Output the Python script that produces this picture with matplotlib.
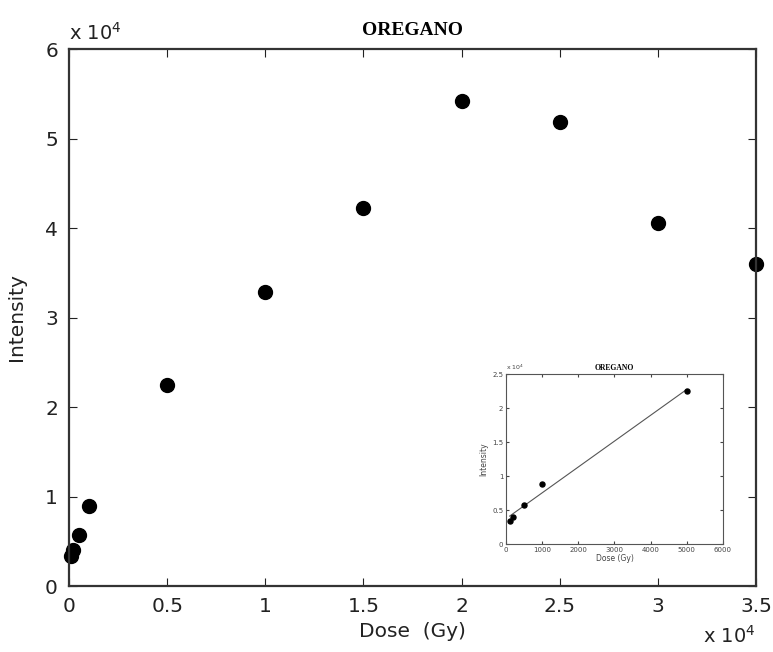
import numpy as np
import matplotlib.pyplot as plt

# Dose (Gy) and signal intensity
dose = [100, 200, 500, 1000, 5000, 10000, 15000, 20000, 25000, 30000, 35000]
intensity = [3400, 4000, 5700, 8900, 22500, 32800, 42200, 54200, 51800, 40600, 36000]

# low-dose range shown in the inset with its linear fit
low_dose = dose[:5]
low_intensity = intensity[:5]

main_xticks = [0, 0.5, 1, 1.5, 2, 2.5, 3, 3.5]
main_yticks = [0, 1, 2, 3, 4, 5, 6]
inset_xticks = [0, 1000, 2000, 3000, 4000, 5000, 6000]
inset_yticks = [0, 0.5, 1, 1.5, 2, 2.5]

fig = plt.figure(figsize=(7.73, 6.52), dpi=100)

# ==========================
# Main axes
# ==========================
ax = fig.add_axes([0.0893, 0.1012, 0.8887, 0.8236])
ax.plot(np.array(dose) / 1e4, np.array(intensity) / 1e4, "o",
        color="black", markersize=10, clip_on=False)
ax.set_xlim(0, 3.5)
ax.set_ylim(0, 6)
ax.set_xticks(main_xticks)
ax.set_xticklabels([f"{t:g}" for t in main_xticks])
ax.set_yticks(main_yticks)
ax.tick_params(direction="in", top=True, right=True, length=6,
               labelsize=14.5, colors="#222222", pad=8)
for s in ax.spines.values():
    s.set_linewidth(1.6)
    s.set_color("#333333")
ax.set_xlabel("Dose  (Gy)", fontsize=14.5, color="#222222", labelpad=4)
ax.set_ylabel("Intensity", fontsize=14.5, color="#222222", labelpad=14)
ax.set_title("OREGANO", fontsize=14, fontweight="bold",
             family="Liberation Serif", pad=10)
ax.text(0.0, 1.01, r"x $10^4$", transform=ax.transAxes, fontsize=14,
        color="#222222", va="bottom", ha="left")
ax.text(1.0, -0.093, r"x $10^4$", transform=ax.transAxes, fontsize=14,
        color="#222222", va="center", ha="right")

# ==========================
# Inset: low-dose linear region
# ==========================
ins = fig.add_axes([0.6546, 0.1656, 0.2807, 0.2607])
slope, intercept = np.polyfit(low_dose, low_intensity, 1)
fit_x = np.array([low_dose[0], low_dose[-1]])
ins.plot(fit_x, (slope * fit_x + intercept) / 1e4, color="#555555", lw=0.8)
ins.plot(low_dose, np.array(low_intensity) / 1e4, "o", color="black",
         markersize=3.6)
ins.set_xlim(0, 6000)
ins.set_ylim(0, 2.5)
ins.set_xticks(inset_xticks)
ins.set_yticks(inset_yticks)
ins.set_yticklabels([f"{t:g}" for t in inset_yticks])
ins.tick_params(direction="in", top=True, right=True, length=2,
                labelsize=5, colors="#444444", pad=2)
for s in ins.spines.values():
    s.set_linewidth(0.8)
    s.set_color("#555555")
ins.set_xlabel("Dose (Gy)", fontsize=5.5, color="#444444", labelpad=1)
ins.set_ylabel("Intensity", fontsize=5.5, color="#444444", labelpad=3)
ins.set_title("OREGANO", fontsize=5.5, fontweight="bold",
              family="Liberation Serif", pad=3)
ins.text(0.0, 1.01, r"x $10^4$", transform=ins.transAxes, fontsize=4.5,
         color="#444444", va="bottom", ha="left")

fig.savefig("out.png", dpi=100)
